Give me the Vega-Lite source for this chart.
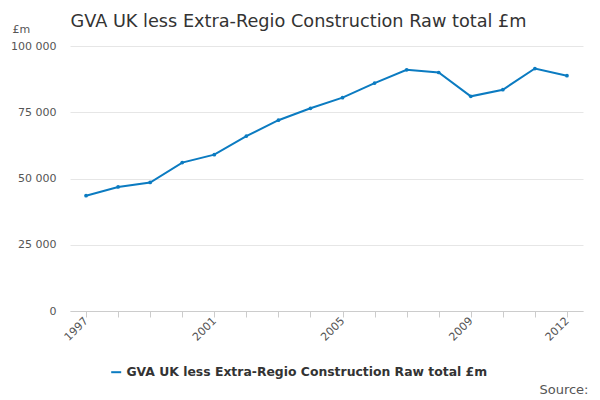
{
  "$schema": "https://vega.github.io/schema/vega-lite/v6.json",
  "width": 513,
  "height": 265,
  "autosize": "none",
  "padding": {"left": 70, "top": 46, "right": 17, "bottom": 89},
  "config": {
    "font": "DejaVu Sans",
    "view": {"stroke": null},
    "axis": {"labelColor": "#555", "labelFontSize": 11, "tickColor": "#ccc", "domainColor": "#ccc", "gridColor": "#e6e6e6"}
  },
  "title": {"text": "GVA UK less Extra-Regio Construction Raw total £m", "anchor": "start", "fontSize": 17.7, "fontWeight": "normal", "color": "#333", "offset": 0, "dx": 60, "dy": 8},
  "data": {"values": [
    {"year": 1997, "value": 43500, "series": "GVA UK less Extra-Regio Construction Raw total £m"},
    {"year": 1998, "value": 46800, "series": "GVA UK less Extra-Regio Construction Raw total £m"},
    {"year": 1999, "value": 48500, "series": "GVA UK less Extra-Regio Construction Raw total £m"},
    {"year": 2000, "value": 56000, "series": "GVA UK less Extra-Regio Construction Raw total £m"},
    {"year": 2001, "value": 59000, "series": "GVA UK less Extra-Regio Construction Raw total £m"},
    {"year": 2002, "value": 66000, "series": "GVA UK less Extra-Regio Construction Raw total £m"},
    {"year": 2003, "value": 72000, "series": "GVA UK less Extra-Regio Construction Raw total £m"},
    {"year": 2004, "value": 76500, "series": "GVA UK less Extra-Regio Construction Raw total £m"},
    {"year": 2005, "value": 80500, "series": "GVA UK less Extra-Regio Construction Raw total £m"},
    {"year": 2006, "value": 86000, "series": "GVA UK less Extra-Regio Construction Raw total £m"},
    {"year": 2007, "value": 91000, "series": "GVA UK less Extra-Regio Construction Raw total £m"},
    {"year": 2008, "value": 90000, "series": "GVA UK less Extra-Regio Construction Raw total £m"},
    {"year": 2009, "value": 81000, "series": "GVA UK less Extra-Regio Construction Raw total £m"},
    {"year": 2010, "value": 83500, "series": "GVA UK less Extra-Regio Construction Raw total £m"},
    {"year": 2011, "value": 91500, "series": "GVA UK less Extra-Regio Construction Raw total £m"},
    {"year": 2012, "value": 88800, "series": "GVA UK less Extra-Regio Construction Raw total £m"}
  ]},
  "mark": {"type": "line", "point": {"size": 14, "filled": true}, "strokeWidth": 2},
  "encoding": {
    "x": {"field": "year", "type": "quantitative",
      "scale": {"domain": [1996.5, 2012.5], "nice": false, "zero": false},
      "axis": {"values": [1997, 1998, 1999, 2000, 2001, 2002, 2003, 2004, 2005, 2006, 2007, 2008, 2009, 2010, 2011, 2012],
        "labelExpr": "indexof([1997,2001,2005,2009,2012], datum.value) >= 0 ? datum.value + '' : ''",
        "format": "d", "labelAngle": -45, "labelAlign": "right", "labelBaseline": "middle", "grid": false, "tickSize": 6,
        "title": "Source:", "titleAnchor": "end", "titleAlign": "right", "titleFontWeight": "normal", "titleFontSize": 13, "titleColor": "#555", "titleX": 518, "titleY": 72}},
    "y": {"field": "value", "type": "quantitative",
      "scale": {"domain": [0, 100000], "nice": false},
      "axis": {"values": [0, 25000, 50000, 75000, 100000], "domain": false, "ticks": false, "labelPadding": 14,
        "labelExpr": "replace(format(datum.value, ','), /,/g, ' ')",
        "title": "£m", "titleAngle": 0, "titleAlign": "left", "titleFontWeight": "normal", "titleFontSize": 11, "titleColor": "#555", "titleX": -58, "titleY": -12}},
    "color": {"field": "series", "type": "nominal", "scale": {"range": ["#0b7bc1"]},
      "legend": {"title": null, "orient": "none", "legendX": 40, "legendY": 320, "labelFontSize": 12.4, "labelFontWeight": "bold", "labelColor": "#333", "symbolType": "stroke", "symbolStrokeWidth": 2, "labelLimit": 500}}
  }
}
